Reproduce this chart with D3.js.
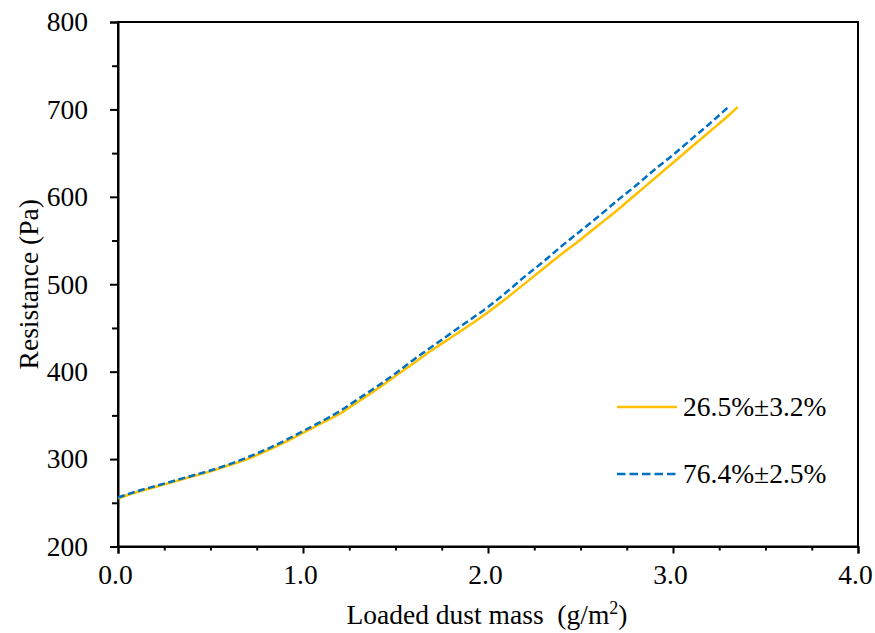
<!DOCTYPE html>
<html>
<head>
<meta charset="utf-8">
<script src="https://cdn.jsdelivr.net/npm/d3@7"></script>
<style>
  html, body { margin: 0; padding: 0; background: #fff; }
  svg { display: block; }
  svg text { font-family: "Liberation Serif", Tinos, "Times New Roman", Times, "DejaVu Serif", serif !important; fill: #000; }
</style>
</head>
<body>
<svg id="chart" width="875" height="633"></svg>
<script>
// ---- data ----
const massA = [0.0, 0.1, 0.2, 0.3, 0.4, 0.5, 0.6, 0.7, 0.8, 0.9, 1.0, 1.1, 1.2, 1.3, 1.4, 1.5, 1.6, 1.7, 1.8, 1.9, 2.0, 2.1, 2.2, 2.3, 2.4, 2.5, 2.6, 2.7, 2.8, 2.9, 3.0, 3.1, 3.2, 3.3, 3.35];
const resistA = [255, 262, 268, 274, 280, 286, 293, 300, 309, 319, 330, 341, 352, 366, 380, 395, 410, 425, 439, 453, 468, 484, 501, 518, 535, 551, 568, 585, 603, 621, 639, 657, 675, 693, 703];
const massB = [0.0, 0.1, 0.2, 0.3, 0.4, 0.5, 0.6, 0.7, 0.8, 0.9, 1.0, 1.1, 1.2, 1.3, 1.4, 1.5, 1.6, 1.7, 1.8, 1.9, 2.0, 2.1, 2.2, 2.3, 2.4, 2.5, 2.6, 2.7, 2.8, 2.9, 3.0, 3.1, 3.2, 3.3];
const resistB = [256, 263, 269, 275, 281, 287, 294, 302, 311, 321, 332, 343, 355, 369, 383, 398, 414, 429, 444, 459, 474, 491, 509, 526, 544, 561, 578, 596, 613, 631, 648, 666, 684, 703];
const seriesNames = ["26.5%\u00B13.2%", "76.4%\u00B12.5%"];
const xTicks = [0, 1, 2, 3, 4];
const yTicks = [200, 300, 400, 500, 600, 700, 800];
const xTitle = "Loaded dust mass  (g/m";
const yTitle = "Resistance (Pa)";

// ---- layout ----
const svg = d3.select("#chart");
const L = 118, R = 858, T = 22, B = 546.5;
const x = d3.scaleLinear().domain([0, 4]).range([L, R]);
const y = d3.scaleLinear().domain([200, 800]).range([B, T]);
const FS = 27.5;
const FF = '"Liberation Serif", Tinos, "Times New Roman", Times, serif';

// frame
svg.append("rect").attr("x", L).attr("y", T).attr("width", R - L).attr("height", B - T)
  .attr("fill", "none").attr("stroke", "#000").attr("stroke-width", 2);

// y axis
const yAxis = d3.axisLeft(y).tickValues(yTicks).tickSize(8).tickPadding(22).tickFormat(d3.format("d"));
const gy = svg.append("g").attr("transform", `translate(${L},0)`).call(yAxis);
gy.attr("font-family", FF).attr("font-size", FS);
gy.select(".domain").attr("stroke-width", 2);
gy.selectAll(".tick line").attr("stroke-width", 2);
gy.selectAll("text").attr("fill", "#000");
const yMinor = d3.axisLeft(y).tickValues(d3.range(250, 800, 100)).tickSize(6).tickFormat("");
const gym = svg.append("g").attr("transform", `translate(${L},0)`).call(yMinor);
gym.select(".domain").remove();
gym.selectAll(".tick line").attr("stroke-width", 2);

// x axis
const xAxis = d3.axisBottom(x).tickValues(xTicks).tickSize(7).tickPadding(11).tickFormat(d3.format(".1f"));
const gx = svg.append("g").attr("transform", `translate(0,${B})`).call(xAxis);
gx.attr("font-family", FF).attr("font-size", FS);
gx.select(".domain").attr("stroke-width", 2);
gx.selectAll(".tick line").attr("stroke-width", 2);
gx.selectAll("text").attr("fill", "#000").attr("dx", -3);
const xMinor = d3.axisBottom(x).tickValues(d3.range(0, 4, 0.25).filter(v => v % 1 !== 0)).tickSize(4).tickFormat("");
const gxm = svg.append("g").attr("transform", `translate(0,${B})`).call(xMinor);
gxm.select(".domain").remove();
gxm.selectAll(".tick line").attr("stroke-width", 2);

// lines
const line = d3.line().x(d => x(d[0])).y(d => y(d[1])).curve(d3.curveMonotoneX);
const dataA = massA.map((m, i) => [m, resistA[i]]);
const dataB = massB.map((m, i) => [m, resistB[i]]);
svg.append("path").datum(dataA).attr("d", line).attr("fill", "none")
  .attr("stroke", "#FFC000").attr("stroke-width", 2.5);
svg.append("path").datum(dataB).attr("d", line).attr("fill", "none")
  .attr("stroke", "#0070C0").attr("stroke-width", 2.5).attr("stroke-dasharray", "7,3.5");

// legend
const leg = [
  { name: seriesNames[0], color: "#FFC000", dash: null, y: 407 },
  { name: seriesNames[1], color: "#0070C0", dash: "8.5,4", y: 474 }
];
leg.forEach(l => {
  svg.append("line").attr("x1", 617).attr("x2", 677).attr("y1", l.y).attr("y2", l.y)
    .attr("stroke", l.color).attr("stroke-width", 2.5).attr("stroke-dasharray", l.dash);
  svg.append("text").attr("x", 683).attr("y", l.y + 9)
    .attr("font-family", FF).attr("font-size", FS).text(l.name);
});

// titles
const xt = svg.append("text").attr("x", 487).attr("y", 624).attr("text-anchor", "middle")
  .attr("font-family", FF).attr("font-size", FS).attr("xml:space", "preserve").style("white-space", "pre");
xt.append("tspan").text(xTitle);
xt.append("tspan").attr("dy", -10).attr("font-size", 18).text("2");
xt.append("tspan").attr("dy", 10).text(")");

svg.append("text").attr("transform", `translate(38,${(T + B) / 2}) rotate(-90)`)
  .attr("text-anchor", "middle").attr("font-family", FF).attr("font-size", FS).text(yTitle);
</script>
</body>
</html>
